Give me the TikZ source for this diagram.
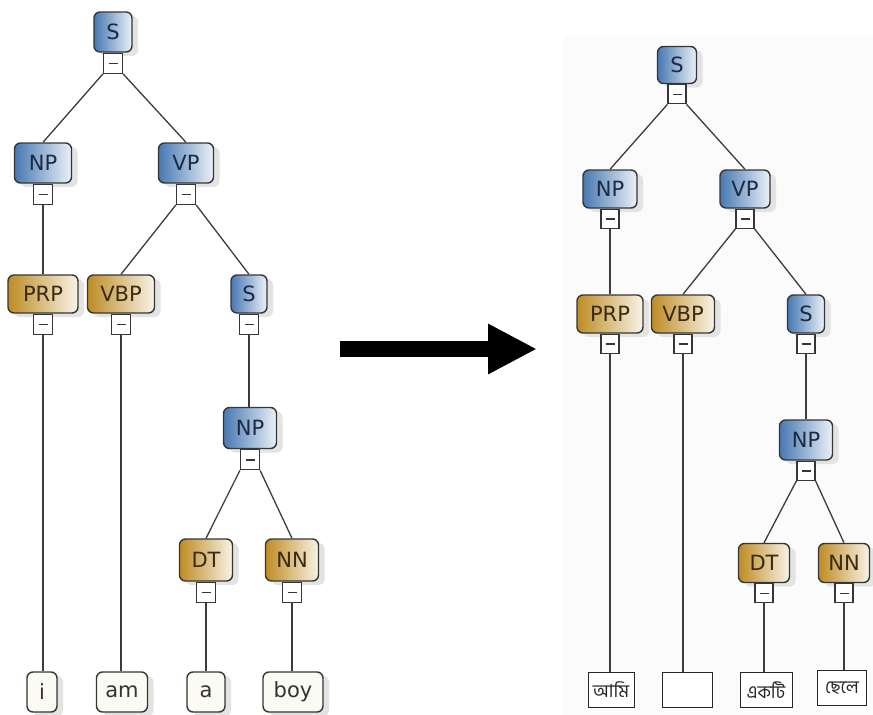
\documentclass[tikz,border=0pt]{standalone}
\usepackage{fontspec}
\setmainfont{DejaVu Sans}
\newfontfamily\bengali[Script=Bengali]{Hind Siliguri}
\usetikzlibrary{positioning,shadows,arrows.meta}

\definecolor{edgecol}{HTML}{363636}
\definecolor{linecol}{HTML}{3C3C3C}
\definecolor{blueL}{HTML}{4878B2}
\definecolor{blueR}{HTML}{EBF1F8}
\definecolor{blueT}{HTML}{1E2942}
\definecolor{goldL}{HTML}{BE8C24}
\definecolor{goldR}{HTML}{F8F3E6}
\definecolor{goldT}{HTML}{3B2A12}
\definecolor{leafcol}{HTML}{FBFBF3}
\definecolor{panel}{HTML}{FBFBFB}

\begin{document}
\begin{tikzpicture}[x=1pt,y=-1pt,
  box/.style={draw=edgecol, line width=1.4pt, rounded corners=6pt, inner sep=0pt,
    minimum height=40pt, font=\fontsize{21}{21}\selectfont,
    drop shadow={shadow xshift=6pt, shadow yshift=-4pt, fill=black!11, opacity=1}},
  phrase/.style={box, left color=blueL, right color=blueR, text=blueT},
  tag/.style={box, left color=goldL, right color=goldR, text=goldT},
  word/.style={box, fill=leafcol, text=black!80},
  bword/.style={draw=black!85, line width=0.9pt, fill=white, inner sep=0pt,
    minimum height=35pt, font=\bengali\fontsize{18}{18}\selectfont, text=black!85},
  conn/.style={draw=edgecol, line width=1.2pt, fill=white, minimum width=19pt,
    minimum height=20pt, inner sep=0pt,
    path picture={\draw[line width=1.5pt]
      ([xshift=-4.5pt]path picture bounding box.center) --
      ([xshift=4.5pt]path picture bounding box.center);}},
  sconn/.style={conn, minimum width=18pt, minimum height=19pt},
  branch/.style={draw=linecol, line width=1.3pt}
]
\useasboundingbox (0,0) rectangle (873,715);
\fill[white] (0,0) rectangle (873,715);
\fill[panel] (563,37) rectangle (873,715);

% ---------- English parse tree ----------
\node[phrase, minimum width=38pt] (l-s)   at (113,32)  {S};
\node[phrase, minimum width=57pt] (l-np)  at (43,163)  {NP};
\node[phrase, minimum width=55pt] (l-vp)  at (186,163) {VP};
\node[tag,    minimum width=70pt, minimum height=38pt] (l-prp) at (43,294)  {PRP};
\node[tag,    minimum width=67pt, minimum height=38pt] (l-vbp) at (121,294) {VBP};
\node[phrase, minimum width=36pt, minimum height=38pt] (l-s2)  at (249,294) {S};
\node[phrase, minimum width=53pt, minimum height=41pt] (l-np2) at (250,428) {NP};
\node[tag,    minimum width=53pt, minimum height=42pt] (l-dt)  at (206,560) {DT};
\node[tag,    minimum width=53pt, minimum height=42pt] (l-nn)  at (292,560) {NN};
\node[word,   minimum width=30pt] (l-w1) at (42,692)  {i};
\node[word,   minimum width=51pt] (l-w2) at (122,692) {am};
\node[word,   minimum width=38pt] (l-w3) at (206,692) {a};
\node[word,   minimum width=60pt] (l-w4) at (293,692) {boy};

\foreach \n in {l-s,l-np,l-vp,l-prp,l-vbp,l-s2,l-np2,l-dt,l-nn}
  \node[conn, below=0pt of \n] (\n-c) {};

\draw[branch] (l-s-c.south west)   -- (l-np.north);
\draw[branch] (l-s-c.south east)   -- (l-vp.north);
\draw[branch] (l-np-c.south)       -- (l-prp.north -| l-np-c.south);
\draw[branch] (l-vp-c.south west)  -- (l-vbp.north);
\draw[branch] (l-vp-c.south east)  -- (l-s2.north);
\draw[branch] (l-s2-c.south)       -- (l-np2.north -| l-s2-c.south);
\draw[branch] (l-np2-c.south west) -- (l-dt.north);
\draw[branch] (l-np2-c.south east) -- (l-nn.north);
\draw[branch] (l-prp-c.south)      -- (l-w1.north -| l-prp-c.south);
\draw[branch] (l-vbp-c.south)      -- (l-w2.north -| l-vbp-c.south);
\draw[branch] (l-dt-c.south)       -- (l-w3.north -| l-dt-c.south);
\draw[branch] (l-nn-c.south)       -- (l-w4.north -| l-nn-c.south);

% ---------- translation arrow ----------
\coordinate (arrow-tail) at (340,349);
\coordinate (arrow-tip)  at (537,349);
\draw[line width=16pt, -{Triangle[width=47pt,length=49pt]}] (arrow-tail) -- (arrow-tip);

% ---------- Bengali parse tree ----------
\node[phrase, minimum width=39pt, minimum height=37pt] (r-s)   at (677,65)  {S};
\node[phrase, minimum width=54pt, minimum height=38pt] (r-np)  at (610,189) {NP};
\node[phrase, minimum width=50pt, minimum height=38pt] (r-vp)  at (745,189) {VP};
\node[tag,    minimum width=66pt, minimum height=38pt] (r-prp) at (610,314) {PRP};
\node[tag,    minimum width=63pt, minimum height=38pt] (r-vbp) at (683,314) {VBP};
\node[phrase, minimum width=37pt, minimum height=38pt] (r-s2)  at (806,314) {S};
\node[phrase, minimum width=53pt, minimum height=40pt] (r-np2) at (806,440) {NP};
\node[tag,    minimum width=51pt, minimum height=39pt] (r-dt)  at (764,563) {DT};
\node[tag,    minimum width=51pt, minimum height=39pt] (r-nn)  at (844,563) {NN};
\node[bword, minimum width=46pt] (r-w1) at (611,690) {আমি};
\node[bword, minimum width=50pt] (r-w2) at (687,690) {};
\node[bword, minimum width=52pt] (r-w3) at (766,690) {একটি};
\node[bword, minimum width=49pt] (r-w4) at (842,688) {ছেলে};

\foreach \n in {r-s,r-np,r-vp,r-prp,r-vbp,r-s2,r-np2,r-dt,r-nn}
  \node[sconn, below=0pt of \n] (\n-c) {};

\draw[branch] (r-s-c.south west)   -- (r-np.north);
\draw[branch] (r-s-c.south east)   -- (r-vp.north);
\draw[branch] (r-np-c.south)       -- (r-prp.north -| r-np-c.south);
\draw[branch] (r-vp-c.south west)  -- (r-vbp.north);
\draw[branch] (r-vp-c.south east)  -- (r-s2.north);
\draw[branch] (r-s2-c.south)       -- (r-np2.north -| r-s2-c.south);
\draw[branch] (r-np2-c.south west) -- (r-dt.north);
\draw[branch] (r-np2-c.south east) -- (r-nn.north);
\draw[branch] (r-prp-c.south)      -- (r-w1.north -| r-prp-c.south);
\draw[branch] (r-vbp-c.south)      -- (r-w2.north -| r-vbp-c.south);
\draw[branch] (r-dt-c.south)       -- (r-w3.north -| r-dt-c.south);
\draw[branch] (r-nn-c.south)       -- (r-w4.north -| r-nn-c.south);
\end{tikzpicture}
\end{document}
